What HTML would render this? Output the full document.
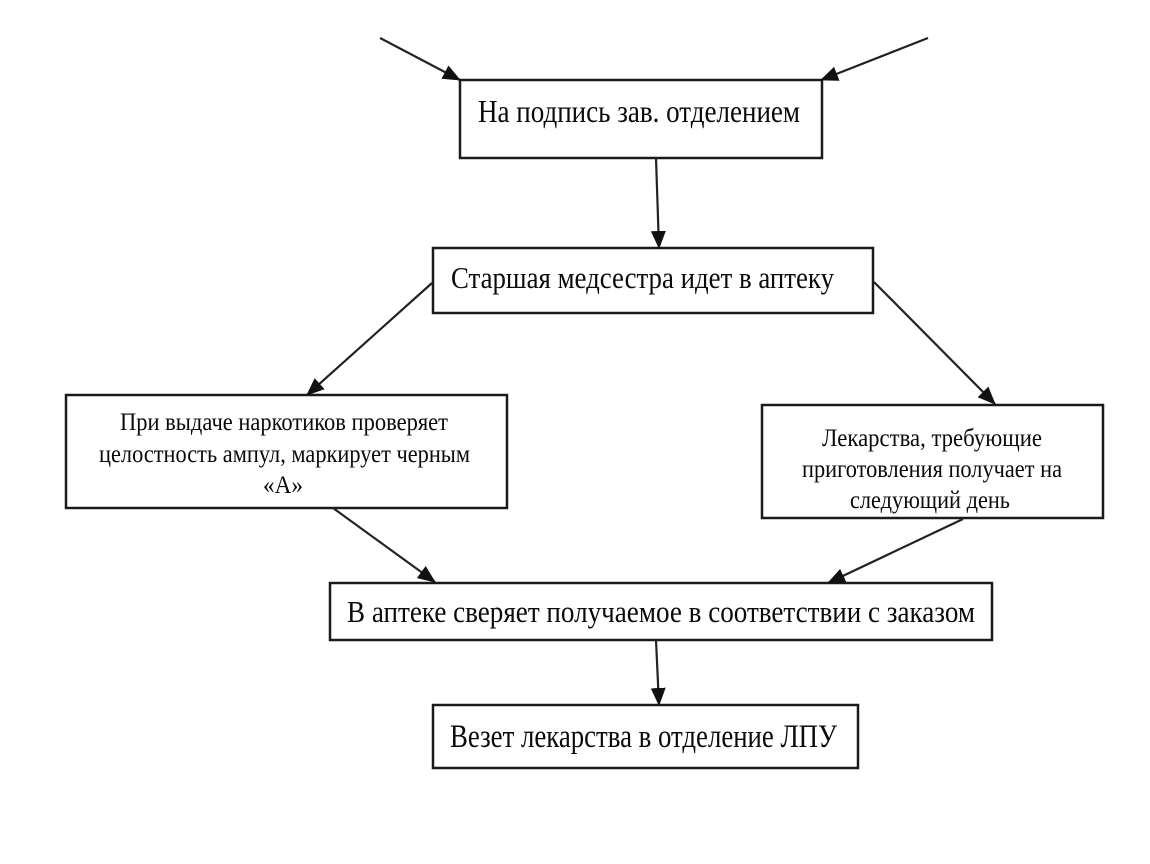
<!DOCTYPE html>
<html>
<head>
<meta charset="utf-8">
<style>
html,body{margin:0;padding:0;background:#fff;}
svg{display:block;}
text{font-family:"Liberation Serif","Noto Serif CJK SC",serif;fill:#0a0a0a;}
</style>
</head>
<body>
<svg width="1150" height="864" viewBox="0 0 1150 864" xmlns="http://www.w3.org/2000/svg">
<defs>
<marker id="ah" markerWidth="18" markerHeight="15" refX="17" refY="7.5" orient="auto" markerUnits="userSpaceOnUse">
<path d="M0,0 L18,7.5 L0,15 Z" fill="#111"/>
</marker>
</defs>
<rect width="1150" height="864" fill="#fff"/>

<g stroke="#1a1a1a" stroke-width="2.5" fill="none">
<rect x="460" y="80" width="362" height="78"/>
<rect x="433" y="248" width="440" height="65"/>
<rect x="66" y="395" width="441" height="113"/>
<rect x="762" y="405" width="341" height="113"/>
<rect x="330" y="583" width="662" height="57"/>
<rect x="433" y="705" width="425" height="63"/>
</g>

<g stroke="#222" stroke-width="2.2" fill="none" marker-end="url(#ah)">
<line x1="380" y1="38" x2="460" y2="80"/>
<line x1="928" y1="38" x2="821" y2="80"/>
<line x1="656" y1="158" x2="659" y2="248"/>
<line x1="432" y1="283" x2="307" y2="395"/>
<line x1="874" y1="282" x2="995" y2="404"/>
<line x1="333" y1="508" x2="435" y2="582"/>
<line x1="963" y1="519" x2="828" y2="583"/>
<line x1="656" y1="640" x2="659" y2="705"/>
</g>

<text x="478" y="122" font-size="32" textLength="322" lengthAdjust="spacingAndGlyphs">На подпись зав. отделением</text>
<text x="451" y="288" font-size="31" textLength="383" lengthAdjust="spacingAndGlyphs">Старшая медсестра идет в аптеку</text>

<text x="120" y="430" font-size="25" textLength="328" lengthAdjust="spacingAndGlyphs">При выдаче наркотиков проверяет</text>
<text x="99" y="462" font-size="25" textLength="371" lengthAdjust="spacingAndGlyphs">целостность ампул, маркирует черным</text>
<text x="263" y="493" font-size="25" textLength="40" lengthAdjust="spacingAndGlyphs">«А»</text>

<text x="822" y="446" font-size="25" textLength="220" lengthAdjust="spacingAndGlyphs">Лекарства, требующие</text>
<text x="802" y="477" font-size="25" textLength="260" lengthAdjust="spacingAndGlyphs">приготовления получает на</text>
<text x="850" y="508" font-size="25" textLength="160" lengthAdjust="spacingAndGlyphs">следующий день</text>

<text x="347" y="622" font-size="31" textLength="628" lengthAdjust="spacingAndGlyphs">В аптеке сверяет получаемое в соответствии с заказом</text>
<text x="450" y="747" font-size="33" textLength="387" lengthAdjust="spacingAndGlyphs">Везет лекарства в отделение ЛПУ</text>
</svg>
</body>
</html>
